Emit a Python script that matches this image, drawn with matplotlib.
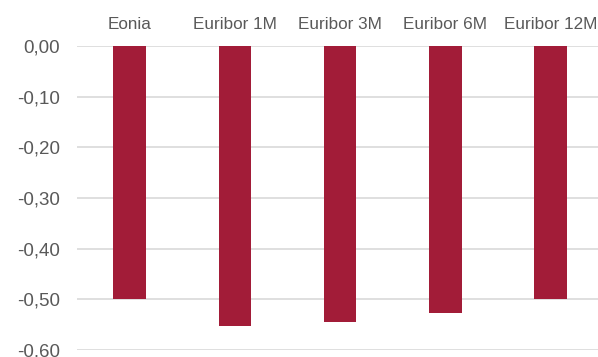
import matplotlib.pyplot as plt
import numpy as np

# data
categories = ["Eonia", "Euribor 1M", "Euribor 3M", "Euribor 6M", "Euribor 12M"]
rates = [-0.499, -0.552, -0.544, -0.527, -0.500]
yticks = [0.0, -0.1, -0.2, -0.3, -0.4, -0.5, -0.6]

plt.rcParams['font.family'] = ['Liberation Sans', 'DejaVu Sans']
txt = '#595959'

fig = plt.figure(figsize=(5.98, 3.57), dpi=100)
ax = fig.add_axes([77/598, 1 - 350/357, 1 - 77/598, (350 - 46)/357])

x = np.arange(len(categories))
ax.bar(x, rates, width=0.31, color='#A21C38', zorder=3)

ax.set_xlim(-0.5, 4.45)
ax.set_ylim(-0.6, 0)
ax.set_yticks(yticks)
ax.set_yticklabels([('%.2f' % v).replace('.', ',') for v in yticks])
ax.yaxis.grid(True, color='#D9D9D9', linewidth=1.2, zorder=0)

ax.xaxis.tick_top()
ax.set_xticks(x)
ax.set_xticklabels(categories)
ax.tick_params(axis='x', length=0, pad=10, labelsize=12.3, colors=txt)
ax.tick_params(axis='y', length=0, pad=12, labelsize=13.5, colors=txt)

for s in ax.spines.values():
    s.set_visible(False)

fig.savefig('out.png', dpi=100)
